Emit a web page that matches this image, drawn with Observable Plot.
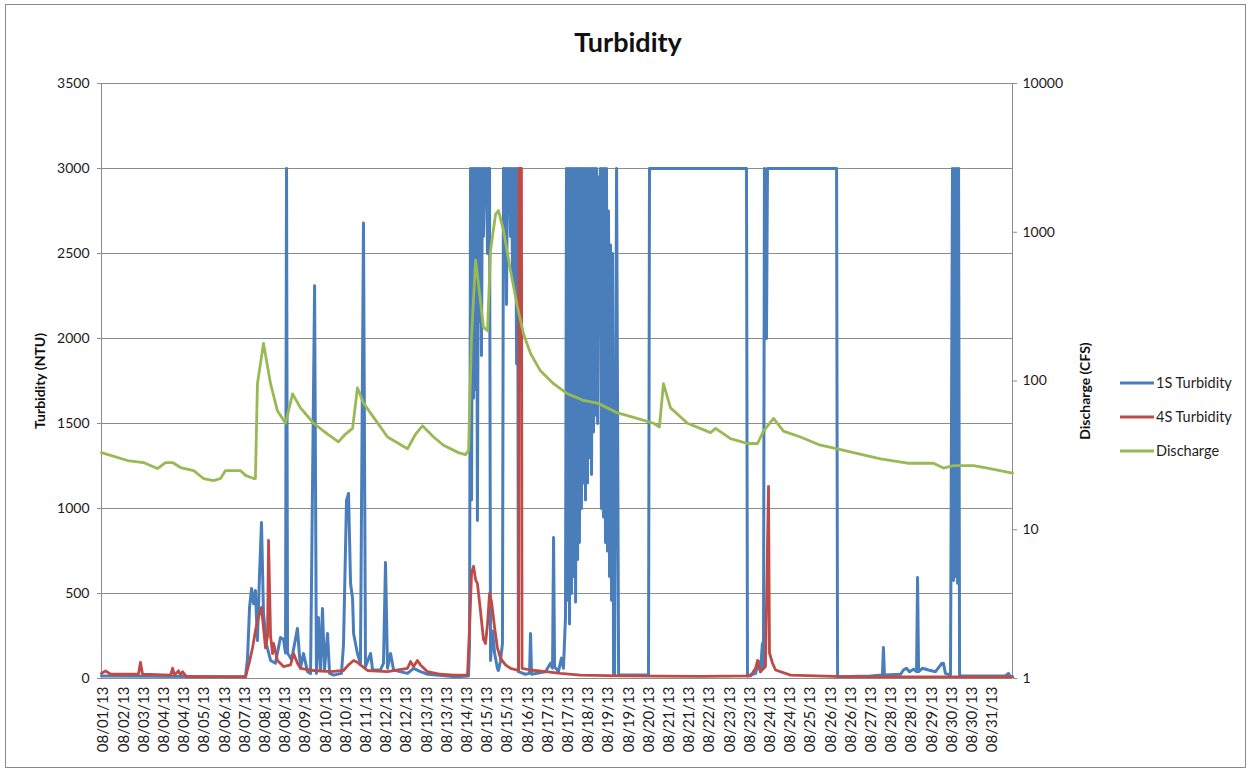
<!DOCTYPE html>
<html>
<head>
<meta charset="utf-8">
<script src="https://cdn.jsdelivr.net/npm/d3@7"></script>
<script src="https://cdn.jsdelivr.net/npm/@observablehq/plot@0.6"></script>
<style>
  body { margin: 0; background: #ffffff; }
  #wrap { position: relative; width: 1251px; height: 771px; overflow: hidden; background: #fff; }
  #wrap > svg { position: absolute; left: 0; top: 0; }
  #frame { position: absolute; left: 5px; top: 4px; width: 1241px; height: 764px; border: 1px solid #8a8a8a; box-sizing: border-box; pointer-events: none; }
</style>
</head>
<body>
<div id="wrap"><div id="frame"></div></div>
<script>
// ---------- DATA ----------
const xTickLabels = ["08/01/13","08/02/13","08/03/13","08/04/13","08/04/13","08/05/13","08/06/13","08/07/13","08/08/13","08/08/13",
  "08/09/13","08/10/13","08/10/13","08/11/13","08/12/13","08/12/13","08/13/13","08/13/13","08/14/13","08/15/13",
  "08/15/13","08/16/13","08/17/13","08/17/13","08/18/13","08/19/13","08/19/13","08/20/13","08/21/13","08/21/13",
  "08/22/13","08/23/13","08/23/13","08/24/13","08/24/13","08/25/13","08/26/13","08/26/13","08/27/13","08/28/13",
  "08/28/13","08/29/13","08/30/13","08/30/13","08/31/13"];
const turbidityTicks = [0, 500, 1000, 1500, 2000, 2500, 3000, 3500];
const dischargeTicks = [1, 10, 100, 1000, 10000];
const seriesNames = ["1S Turbidity", "4S Turbidity", "Discharge"];

// [position (label index units), NTU]
const turb1S = [
  [-0.10,15],[7.03,10],[7.13,120],[7.23,420],[7.33,530],[7.43,440],[7.52,517],[7.62,223],[7.72,600],[7.82,918],
  [7.92,382],[8.07,200],[8.27,106],[8.51,90],[8.76,241],[8.91,230],[9.01,150],[9.06,3000],[9.11,150],[9.31,110],
  [9.60,294],[9.75,60],[9.90,147],[10.10,40],[10.25,30],[10.45,2310],[10.54,30],[10.64,359],[10.74,45],[10.84,412],
  [10.94,50],[11.09,265],[11.19,30],[11.39,20],[11.78,30],[11.88,200],[12.03,1047],[12.13,1088],[12.23,559],[12.33,470],
  [12.38,265],[12.57,147],[12.72,90],[12.87,2680],[12.97,70],[13.22,147],[13.32,50],[13.71,50],[13.86,90],[13.96,682],
  [14.06,60],[14.21,147],[14.36,50],[15.05,30],[15.35,60],[15.69,40],[16.04,25],[17.43,10],[18.07,15],
  [18.12,200],[18.17,3000],[18.22,1050],[18.27,3000],[18.32,1650],[18.37,3000],[18.42,1700],[18.47,3000],[18.51,930],[18.56,3000],
  [18.61,2100],[18.66,3000],[18.71,1900],[18.76,3000],[18.81,2600],[18.86,3000],[18.91,2800],[18.96,3000],[19.01,2500],[19.06,3000],
  [19.11,3000],[19.16,106],[19.26,280],[19.36,150],[19.50,60],[19.55,47],[19.65,100],[19.75,206],
  [19.80,3000],[19.85,2700],[19.90,3000],[19.95,2200],[20.00,3000],[20.05,2750],[20.10,3000],[20.15,2600],[20.20,3000],[20.25,2360],
  [20.30,3000],[20.35,2300],[20.40,3000],[20.45,1850],[20.50,3000],[20.54,40],
  [20.89,25],[21.09,30],[21.14,265],[21.19,25],[21.88,40],[22.13,90],[22.23,60],[22.28,829],[22.33,70],[22.52,40],
  [22.67,120],[22.77,60],[22.87,359],
  [22.92,3000],[22.97,460],[23.02,3000],[23.07,320],[23.12,3000],[23.17,500],[23.22,3000],[23.27,600],[23.32,3000],[23.37,450],
  [23.42,3000],[23.47,700],[23.51,3000],[23.56,800],[23.61,3000],[23.66,1000],[23.71,3000],[23.76,1150],[23.81,3000],[23.86,1050],
  [23.91,3000],[23.96,1150],[24.01,3000],[24.06,1300],[24.11,3000],[24.16,1200],[24.21,3000],[24.26,1450],[24.31,3000],[24.36,1550],
  [24.41,3000],[24.46,1500],[24.50,2950],[24.55,2250],[24.60,3000],[24.65,1000],[24.70,3000],[24.75,950],[24.80,3000],[24.85,800],
  [24.90,3000],[24.95,750],[25.00,2750],[25.05,600],[25.10,2550],[25.15,460],[25.20,2500],[25.25,25],
  [25.30,20],[25.40,3000],[25.50,20],[26.98,20],[27.03,3000],[31.83,3000],[31.88,15],[32.28,30],[32.43,100],[32.52,40],
  [32.62,206],[32.67,60],[32.72,3000],[32.82,2000],[32.87,3000],[36.29,3000],[36.34,10],[37.97,15],[38.56,20],[38.61,182],
  [38.66,20],[39.46,25],[39.60,50],[39.75,60],[39.90,40],[40.10,55],[40.25,40],[40.30,594],[40.35,40],[40.54,60],
  [40.84,50],[41.19,40],[41.49,88],[41.58,90],[41.68,30],[41.93,20],[42.03,3000],[42.08,576],[42.13,3000],[42.18,600],
  [42.23,3000],[42.28,560],[42.33,3000],[42.38,15],[44.65,15],[44.80,30],[44.90,10],[45.00,10]
];

// [position, NTU]
const turb4S = [
  [-0.10,30],[0.10,45],[0.35,25],[1.73,25],[1.83,95],[1.93,25],[3.32,20],[3.42,60],[3.51,20],[3.71,45],
  [3.81,20],[3.91,40],[4.11,10],[7.03,10],[7.23,100],[7.38,182],[7.52,280],[7.62,341],[7.82,418],[7.92,300],
  [8.02,180],[8.12,250],[8.17,812],[8.27,250],[8.37,147],[8.42,206],[8.61,106],[8.91,70],[9.26,80],[9.41,147],
  [9.60,90],[9.75,60],[10.40,47],[11.24,40],[11.88,47],[12.13,80],[12.38,106],[12.57,95],[12.72,80],[13.07,47],
  [14.06,40],[15.05,60],[15.20,100],[15.35,70],[15.54,106],[15.69,80],[16.04,40],[16.68,25],[17.33,20],[18.02,20],
  [18.12,300],[18.22,620],[18.32,660],[18.42,580],[18.51,560],[18.66,400],[18.81,230],[18.91,206],[19.01,320],[19.11,500],
  [19.21,450],[19.36,300],[19.50,180],[19.65,120],[19.90,80],[20.15,60],[20.45,50],[20.55,50],[20.57,3000],[20.69,3000],
  [20.72,60],[21.14,50],[21.88,40],[22.62,30],[23.61,20],[25.59,15],[29.55,12],[32.03,15],[32.28,60],[32.38,106],
  [32.52,40],[32.77,70],[32.92,1130],[32.97,150],[33.12,90],[33.27,50],[34.01,20],[36.98,10],[45.00,10]
];

// [position, CFS]
const discharge = [
  [-0.10,33],[1.19,29.2],[1.98,28.3],[2.67,25.8],[3.07,28.3],[3.42,28.3],[3.81,26.2],[4.46,25.0],[4.95,22.1],[5.45,21.4],
  [5.79,22.1],[6.04,25.0],[6.78,25.0],[7.03,23.2],[7.43,22.1],[7.52,22.1],[7.62,96],[7.92,179],[8.27,96],[8.61,63],
  [9.01,52],[9.36,82],[9.75,66],[10.40,52],[11.09,44],[11.63,39],[11.98,44],[12.33,48],[12.57,90],[12.87,71],
  [13.37,57],[14.06,42],[15.05,35],[15.45,44],[15.79,50],[16.34,42],[16.83,37],[17.57,33],[17.92,32],[18.07,34],
  [18.22,200],[18.42,650],[18.56,452],[18.81,229],[19.01,218],[19.16,754],[19.41,1320],[19.55,1400],[19.80,1028],[20.15,550],
  [20.50,312],[20.79,208],[21.14,153],[21.63,117],[22.28,96],[22.97,82],[23.76,74],[24.46,71],[25.45,61],[26.24,57],
  [27.23,52],[27.52,49],[27.72,96],[28.07,66],[28.91,52],[30.05,45],[30.30,48],[31.04,41],[31.88,38],[32.38,38],
  [32.67,46],[33.17,56],[33.66,46],[34.50,42],[35.49,37],[36.34,35],[37.13,33],[38.47,30],[39.80,28],[41.09,28],
  [41.58,26],[42.08,27],[43.07,27],[43.76,26],[45.00,24]
];

const colors = ["#4A7EBB", "#BE4B48", "#98B954"];

// ---------- CHART ----------
const yMax = 3500;
const logToY = q => Math.log10(q) / 4 * yMax;   // secondary log axis mapped onto primary scale
const yToLog = y => Math.round(Math.pow(10, y / yMax * 4));
const dischargeRows = discharge.map(([p, q]) => ({p, y: logToY(q)}));

const font = "Lato, 'Open Sans', sans-serif";
const chart = Plot.plot({
  width: 1251, height: 771,
  marginLeft: 101, marginRight: 239, marginTop: 83, marginBottom: 93,
  style: {fontFamily: font, fontSize: "14px", color: "#1a1a1a", background: "transparent", overflow: "visible"},
  x: {domain: [-0.1, 45], axis: null},
  y: {domain: [0, yMax], axis: null},
  marks: [
    Plot.gridY(turbidityTicks, {stroke: "#8c8c8c", strokeOpacity: 1, strokeWidth: 1}),
    Plot.ruleX([-0.1, 45], {stroke: "#8c8c8c", strokeWidth: 1}),
    Plot.axisY({anchor: "left", ticks: turbidityTicks, tickFormat: d => String(d), tickSize: 4, tickPadding: 8,
      stroke: "#8c8c8c", label: null, fontSize: 14}),
    Plot.axisY({anchor: "right", ticks: dischargeTicks.map(logToY), tickFormat: d => String(yToLog(d)),
      tickSize: 4, tickPadding: 6, stroke: "#8c8c8c", label: null, fontSize: 14}),
    Plot.axisX({ticks: xTickLabels.map((_, i) => i), tickFormat: d => xTickLabels[Math.round(d)],
      tickRotate: -90, tickSize: 0, tickPadding: 8, label: null, fontSize: 15}),
    Plot.line(turb1S, {x: d => d[0], y: d => d[1], stroke: colors[0], strokeWidth: 3, strokeLinejoin: "round"}),
    Plot.line(turb4S, {x: d => d[0], y: d => d[1], stroke: colors[1], strokeWidth: 2.8, strokeLinejoin: "round"}),
    Plot.line(dischargeRows, {x: "p", y: "y", stroke: colors[2], strokeWidth: 2.8, strokeLinejoin: "round"})
  ]
});
const wrap = document.getElementById("wrap");
wrap.insertBefore(chart, wrap.firstChild);

// ---------- TITLES & LEGEND (overlay) ----------
const ns = "http://www.w3.org/2000/svg";
const ov = document.createElementNS(ns, "svg");
ov.setAttribute("width", 1251); ov.setAttribute("height", 771);
ov.style.position = "absolute"; ov.style.left = "0"; ov.style.top = "0";
ov.style.fontFamily = font;
function txt(s, attrs) {
  const t = document.createElementNS(ns, "text");
  t.textContent = s;
  for (const k in attrs) t.setAttribute(k, attrs[k]);
  ov.appendChild(t);
  return t;
}
txt("Turbidity", {x: 628, y: 52, "text-anchor": "middle", "font-size": 27, "font-weight": "bold", fill: "#111"});
txt("Turbidity (NTU)", {transform: "translate(45,381) rotate(-90)", "text-anchor": "middle", "font-size": 14, "font-weight": "bold", fill: "#111"});
txt("Discharge (CFS)", {transform: "translate(1090,391) rotate(-90)", "text-anchor": "middle", "font-size": 14, "font-weight": "bold", fill: "#111"});
seriesNames.forEach((name, i) => {
  const y = 383 + i * 34;
  const l = document.createElementNS(ns, "line");
  l.setAttribute("x1", 1120); l.setAttribute("x2", 1154); l.setAttribute("y1", y); l.setAttribute("y2", y);
  l.setAttribute("stroke", colors[i]); l.setAttribute("stroke-width", 2.8);
  ov.appendChild(l);
  txt(name, {x: 1156, y: y + 5, "font-size": 14.5, fill: "#1e1e1e"});
});
wrap.appendChild(ov);
</script>
</body>
</html>
